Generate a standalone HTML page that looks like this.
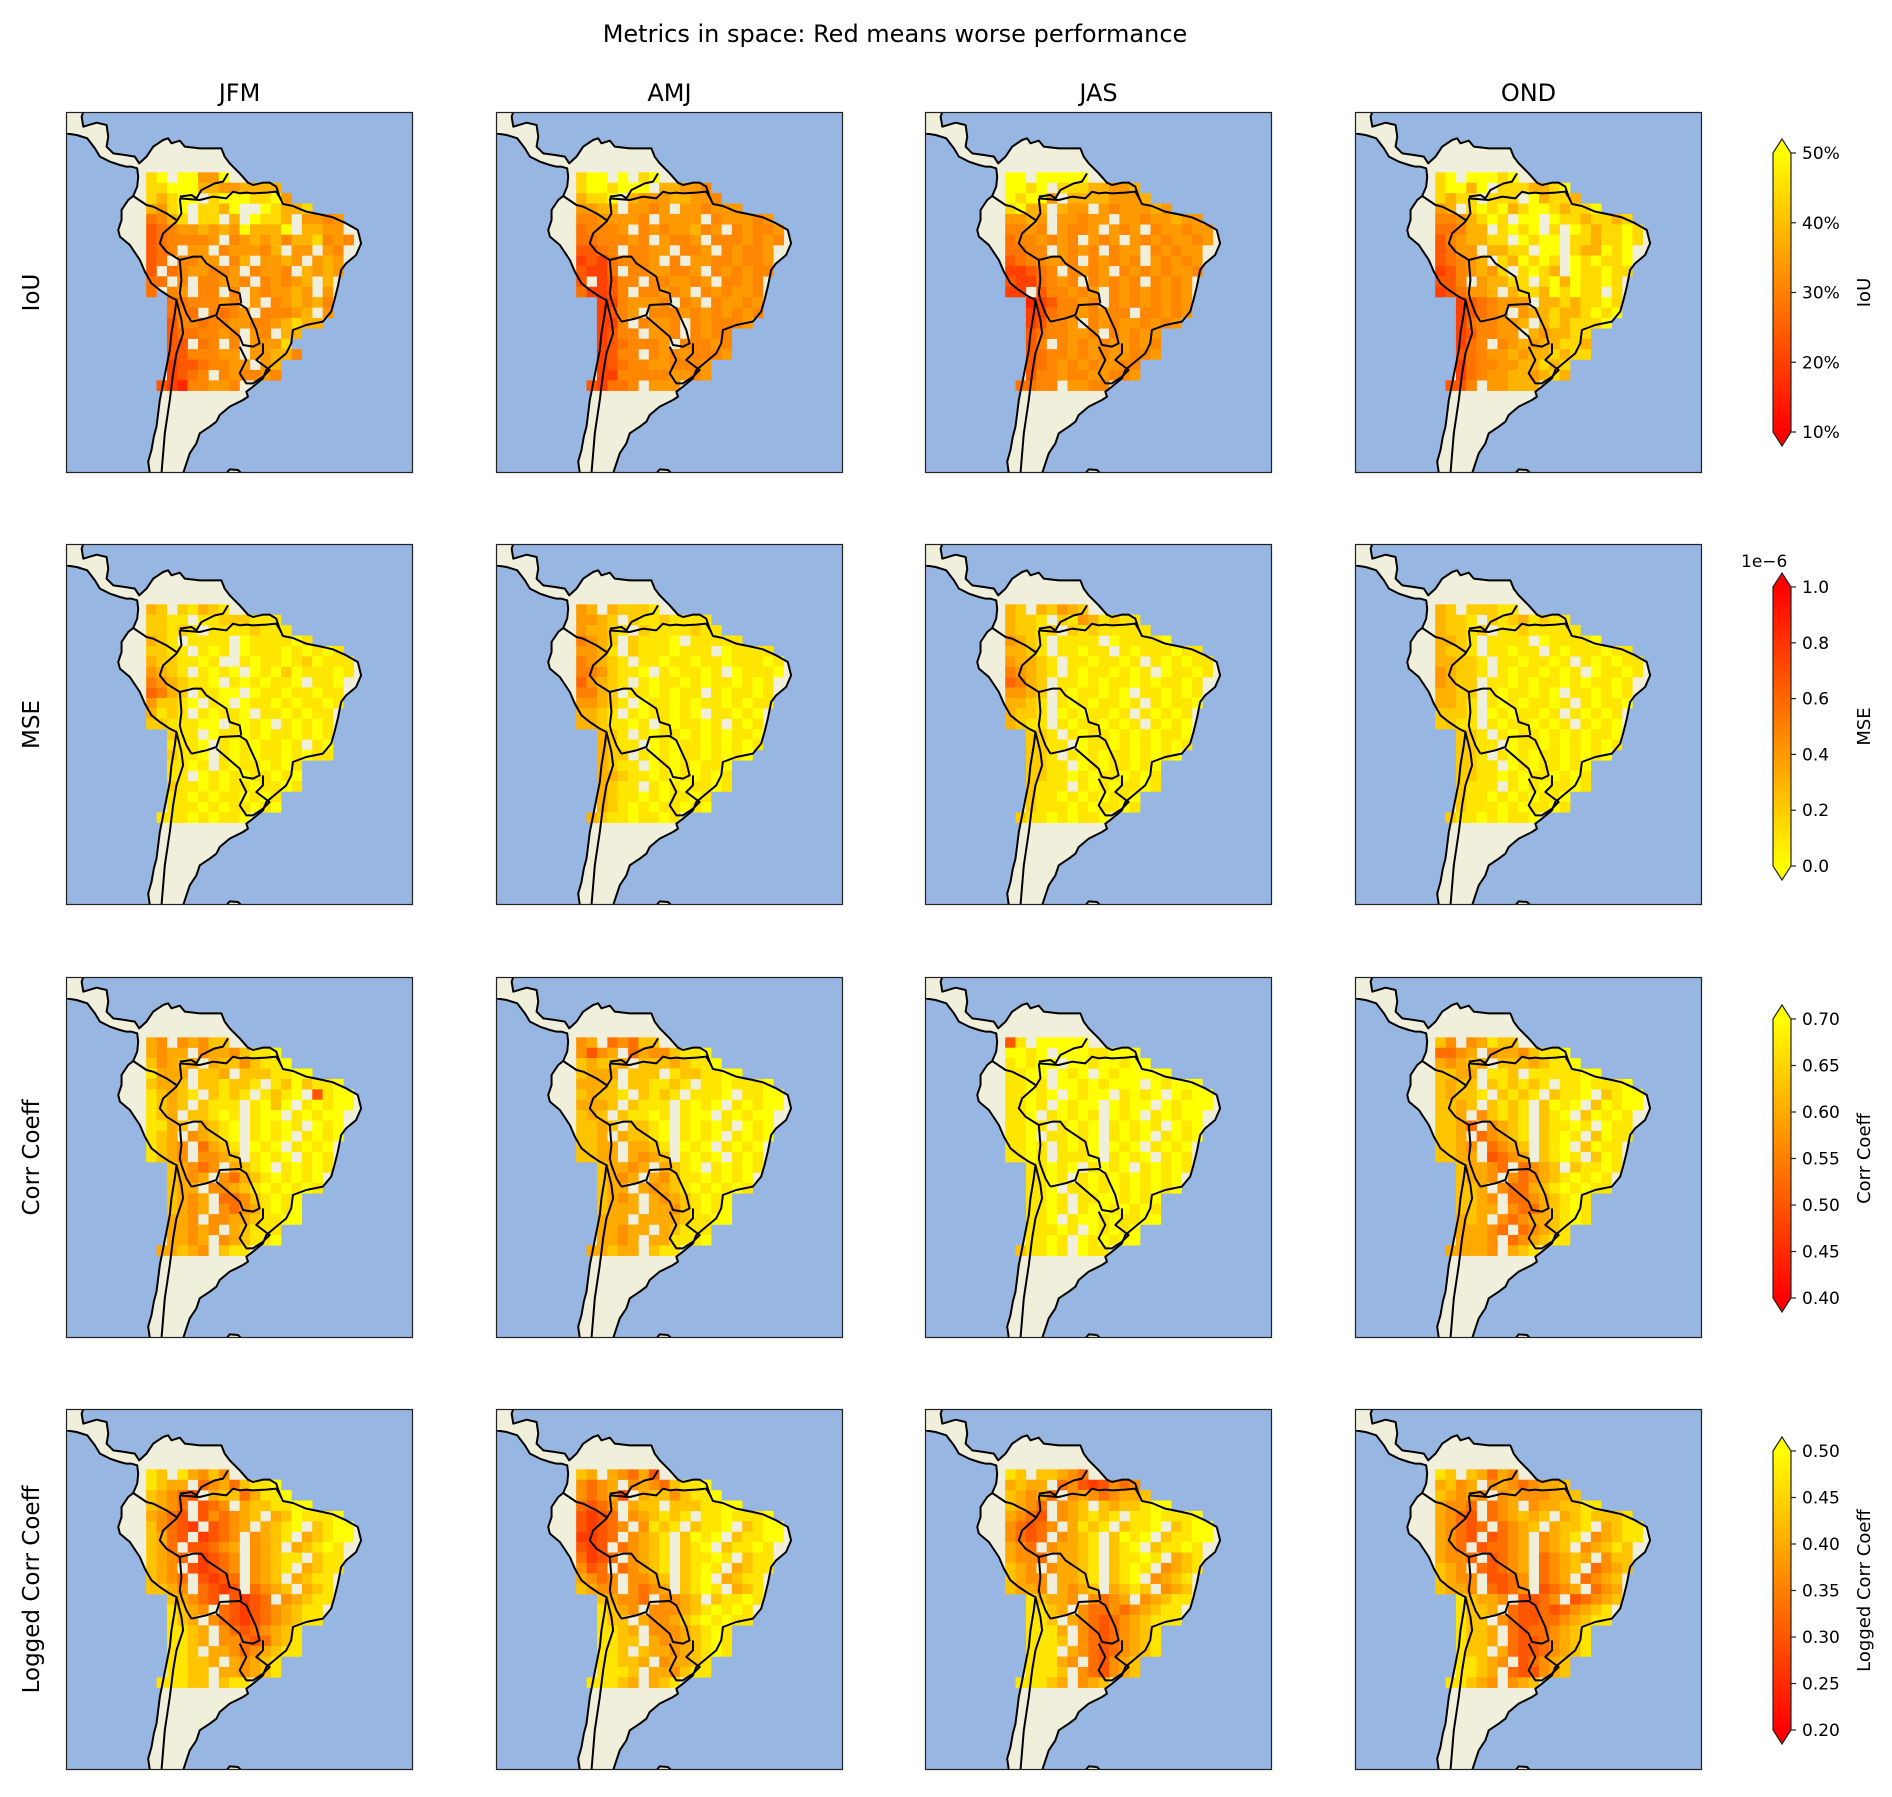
<!DOCTYPE html>
<html><head><meta charset="utf-8"><title>Metrics in space</title>
<style>
html,body{margin:0;padding:0;background:#fff;}
svg text{font-family:"DejaVu Sans","Liberation Sans",sans-serif;fill:#000;}
</style></head>
<body>
<svg id="fig" xmlns="http://www.w3.org/2000/svg" width="1892" height="1792" viewBox="0 0 1892 1792">
<rect x="0" y="0" width="1892" height="1792" fill="#fff"/>
<text x="895" y="42" font-size="24" text-anchor="middle">Metrics in space: Red means worse performance</text>
</svg>
<script>
// ---- data ----
const seasons = ["JFM","AMJ","JAS","OND"];
const metrics = ["IoU","MSE","Corr Coeff","Logged Corr Coeff"];
const rowStart = [0,0,0,0,0,0,0,0,0,0,0,0,2,2,2,2,2,2,2,2,1];
// value represented by each digit level, per metric
const iouLevels = [0.12,0.16,0.20,0.24,0.28,0.31,0.34,0.38,0.44,0.50];
const mseLevels = [0.00,0.10,0.20,0.30,0.40,0.50,0.60,0.70,0.85,1.00];
const corLevels = [0.40,0.43,0.47,0.50,0.53,0.57,0.60,0.63,0.67,0.70];
const logLevels = [0.20,0.23,0.27,0.30,0.33,0.37,0.40,0.43,0.47,0.50];
// digit level per grid cell ('.' = missing)
const iouJFM = ["89.99669","8899977667777","87899.89998896","7689.8879..98778","4578.88.7.9887.6656","34566767697779.7766.","3455556.567675778565","345.66.566657.66.65","34.5566.57.6676.676","3.4566556.5665.7676","44.5.55665.56567.7","4.56.55.5.656676.6","4455565.6.567675","454.5456.55567.6","355455665567877","3445565.65.77","33.45.5.6668.","3355566.66775","23345566.67","2345.565565","32155665."];
const iouAMJ = ["899.9.89","8998999.77665","7889.766677665","6677.6656.665666","5566665.6666.566656","45556.56566756.56556","4455565.6556.5556565","3345.5566.556.56556","23245556.5.66556556","3224.5566556.565655","3.2355.556656.5565","42235.55656.565665","2256665.56.56656","2356.55565656565","225.5665.565556","2355.665.5655","2345556.55565","2355.56565556","23455665556","22555556656","32445.666"];
const iouJAS = ["99.99999","9989.88877667","98996.77776667","8977.766.6566676","6676.66566.66566766","5565.6556.656.566566","4556565.656.65656656","4455.6565.566.56566","3455665.56565.65656","22345.5656.56565665","3224565.56565.5656","22.355656.56565656","1235565.56565656","2245565655.55656","23556.565665656","3455665.56566","35.5656566565","3455656566556","34565656655","35565566556","4455.6655"];
const iouOND = ["89.99989","89979.8887789","8788.888.97887","67.8989789987889","5567898.99.98878878","44577.8989.8.9878898","3567788.9899.8878898","3466.7788.99.877989","34567.879898.989889","2356768.8987.988988","335.67788.89798898","234667.788798988.8","2345666.77878898","23456.6778778989","2455667.7878889","235566.767788","245.567677887","3456676778788","24556677878","24566776787","335.66777"];
const mseJFM = ["32.21321","2211.11222111","22121.11112111","321.1111.0111101","2211.101.0111010101","3221101..10110120111","4321.1010.0102011101","5432110.1010110.110","6532.1100.011011011","42210.10.0110101101","3121.10110.1101011","2211100.1010.10101","211.011010110101","1110.10101101.10","2110.10101101011","1101.10110101","11.0101011010","2110101101101","11010110101","11101011010","111010110"];
const mseAMJ = ["43.32221","4432.21121111","43321.21111211","5432.21110.11111","4431.21110111.01111","54321.11011011011101","5542110.101101.01110","64321.1011010110101","5532.1101011.101101","44321.0110101101011","3321.1011010.11010","3321101.101101.101","321.101101010110","3211.01011010101","322.10101101010","3211.01010110","3321101010101","3211.10101101","32110101101","32101011010","321101101"];
const mseJAS = ["32.32432","3221.21431211","32212.21211111","4321.1111.011110","3321.11011.10111011","43321.1101101.101011","54321.10110101.01101","6532.11010110101101","4432.1011010.110101","3321.10101101.10110","3221.0101101.10101","3211.10110101.1010","221.101101010110","2211.01101010101","221.10101101010","2211.01011010","2211010110101","2111.10101101","21101010110","21110101101","211010110"];
const mseOND = ["32.22211","3221.21231211","32212.11211111","3321.1111.011110","3221.11011.10111011","33221.1101101.101011","43221.10110101.01101","4322.11010110101101","3322.1011010.110101","3321.10101101.10110","2221.0101101.10101","2211.10110101.1010","221.101101010110","2211.01101010101","221.10101101010","2211.01011010","2211010110101","2111.10101101","21101010110","21110101101","211010110"];
const corJFM = ["65.56577","6566.56657889","75676.67757889","8666.776.7778899","7667.778778.8797889","87678.7878.8789.3899","8767.7888.8979.89899","876.77898.899.89899","8867.6789.89898.989","876.56789.8989.8989","8765.4678.989.8989","8765.5567.8989.898","76545.6789.89898","7656.5467898989.","766.55678989898","7656.44578989","7656.54568989","665.556678899","66565.67888","6656.567889","66765.788"];
const corAMJ = ["56.45477","5356.46557889","76776.77767889","7666.777.8778899","6667.778878.8898889","76778.7878.8889.8899","6667.7888.8989.89899","767.78898.899.89899","7767.7789.89898.989","776.67789.8989.8989","7766.6678.989.8989","7766.6567.8989.898","76656.6789.89898","7656.6578898989.","766.65678989898","7656.65678989","7666.66578989","666.666678899","66566.67888","6656.668889","66766.788"];
const corJAS = ["38.99999","9989.99988999","89899.99899899","8899.989.9899999","8898.99898999.98999","88989.9899.8989.9899","8898.9899.9899.98999","889.89898.989.89899","8898.8989.89898.989","889.88989.8989.8989","8898.8989.989.8989","8898.8889.8989.898","88989.8989.89898","8898.8989898989.","889.88989898989","8898.88998989","8898.89989898","889.899898899","88898.98989","8898.989899","78898.988"];
const corOND = ["75.56877","4456.56657889","65676.77767889","7766.887.8888899","7677.787878.8898889","76778.7878.7889.7899","7767.7878.7989.79899","776.57878.789.79898","7764.5678.78898.988","776.45678.7898.7988","7765.4567.789.7988","7766.3456.7898.798","76654.4567.78898","7665.5456789898.","776.54467898988","7765.44567898","7766.54467898","676.545667898","66654.45678","6665.456788","66665.678"];
const logJFM = ["87.86575","8766.45647889","76543.67746889","7654.345.6778899","6543.354567.6798889","75432.3456.6789.7899","7643.2345.5678.67899","764.33456.567.67898","7654.2345.56788.788","765.32345.5678.6788","7654.3234.567.6788","7765.4323.4567.678","76543.3234.56788","8765.4323456788.","876.54323456788","8876.54345678","8876.55434678","887.665456788","88776.65678","8877.665678","88877.788"];
const logAMJ = ["76.65463","5456.56547889","54563.67757889","4345.677.7778899","3234.567878.8898889","32345.5878.7889.7899","2234.5678.7989.78899","323.45678.789.78898","4234.5678.78898.788","534.45678.7898.6788","6545.5567.789.6788","7655.5456.7898.678","76554.5567.78898","8765.5556789898.","877.65567898988","8876.55567898","8877.65567898","887.766567898","88776.56678","8887.665788","88876.678"];
const logJAS = ["87.77654","6766.45323545","76564.56545667","7654.567.7677899","6543.567878.8898889","54345.6878.7889.7899","5434.5678.7989.78899","654.56678.789.78898","6554.6678.78898.678","765.56678.7898.5678","7655.6678.789.5678","7665.6567.6787.567","87665.5456.56788","8876.5445456788.","887.65434567888","8886.54345678","8887.54345678","888.654345678","88865.43567","8887.543567","88876.567"];
const logOND = ["87.76465","6756.56545667","76565.56555667","6554.456.5667788","6543.456767.6787778","65434.4567.6778.6788","6543.3456.5678.56788","654.34456.567.56787","6554.3456.45676.577","765.43456.4567.4567","7655.3345.456.4567","7665.4345.3456.456","87665.3345.34567","8776.4334345678.","877.54334456788","8776.43445678","8776.43345678","877.643345678","88765.34567","8876.433567","88765.567"];
const panelData = [[iouJFM,iouAMJ,iouJAS,iouOND],[mseJFM,mseAMJ,mseJAS,mseOND],[corJFM,corAMJ,corJAS,corOND],[logJFM,logAMJ,logJAS,logOND]];
const levels = [iouLevels, mseLevels, corLevels, logLevels];
// colorbar domains and ticks
const vmins = [0.10, 0.0, 0.40, 0.20];
const vmaxs = [0.50, 1.0, 0.70, 0.50];
const reversedCmap = [false, true, false, false];
const iouTicks = ["10%","20%","30%","40%","50%"];
const iouTickVals = [0.10,0.20,0.30,0.40,0.50];
const mseTickVals = [0.0,0.2,0.4,0.6,0.8,1.0];
const corTickVals = [0.40,0.45,0.50,0.55,0.60,0.65,0.70];
const logTickVals = [0.20,0.25,0.30,0.35,0.40,0.45,0.50];

// ---- layout ----
const NS = "http://www.w3.org/2000/svg";
const svg = document.getElementById("fig");
const colX = [66, 496, 925, 1355];
const rowY = [112, 544, 977, 1409];
const PW = 347, PH = 361;
const CB = {x:1773, w:18, tops:[153,587,1019,1451], len:279, tip:14};

function el(tag, attrs, parent){const e=document.createElementNS(NS,tag);for(const k in attrs)e.setAttribute(k,attrs[k]);(parent||svg).appendChild(e);return e;}
function autumn(t){t=Math.max(0,Math.min(1,t));return "rgb(255,"+Math.round(255*t)+",0)";}
function digitToValue(m,d){return levels[m][d];}
function colorFor(m,v){let t=(v-vmins[m])/(vmaxs[m]-vmins[m]);if(reversedCmap[m])t=1-t;return autumn(t);}

const landD = "M198,336 L250,336 L245,350 L250,380 L290,368 L320,375 L325,410 L320,440 L340,460 L375,465 L405,470 L418,490 L440,470 L460,440 L490,420 L505,415 L515,430 L540,422 L555,440 L600,445 L640,445 L665,445 L675,470 L690,490 L720,520 L745,548 L760,555 L790,548 L810,548 L830,560 L840,590 L850,612 L880,618 L920,635 L970,645 L1000,652 L1040,670 L1075,690 L1085,730 L1070,765 L1040,790 L1025,810 L1015,860 L1005,900 L995,935 L970,965 L920,975 L880,990 L875,1030 L860,1060 L830,1085 L800,1110 L790,1135 L760,1160 L740,1175 L745,1190 L730,1200 L690,1220 L660,1245 L650,1265 L630,1280 L600,1300 L590,1330 L570,1360 L560,1390 L550,1420 L450,1420 L445,1385 L455,1350 L462,1310 L470,1280 L475,1240 L480,1200 L490,1150 L500,1100 L510,1050 L515,1000 L525,940 L530,900 L510,890 L480,870 L455,850 L435,815 L420,780 L390,735 L360,710 L355,690 L365,660 L365,630 L385,600 L400,588 L412,560 L415,530 L412,505 L395,500 L380,500 L360,495 L330,485 L300,470 L285,445 L262,415 L230,405 L198,400 Z M680,1420 L690,1408 L715,1410 L725,1420 Z";
const borders = [
 "M540,590 L575,585 L590,595 L605,570 L645,550 L670,545 L685,520",
 "M540,595 L600,600 L640,590 L680,595 L700,575 L720,580 L740,578 L760,580 L800,578 L830,575 L845,600",
 "M400,588 L440,615 L460,620 L500,640 L530,660",
 "M540,595 L545,640 L530,665 L490,700 L480,730 L500,755 L540,780 L580,770 L605,770 L620,790 L680,830 L690,870 L720,880 L725,910",
 "M540,780 L545,840 L540,880 L545,900 L560,940 L575,965",
 "M575,965 L620,955 L650,945 L660,915 L720,912 L740,925 L770,990 L780,1030 L760,1040 L730,1035 L720,1010 L650,950",
 "M530,900 L545,960 L550,1000 L530,1060 L520,1120 L510,1200 L495,1300 L485,1420",
 "M720,1040 L740,1080 L720,1120 L740,1150 L760,1150 L790,1130 L810,1110 L770,1080 L790,1060 L790,1030"
];
const CX0=439, CY0=517, CS=31.2;

seasons.forEach((s,j)=>{
  const t=el("text",{x:colX[j]+PW/2,y:101,"font-size":24,"text-anchor":"middle"});
  
  
  t.textContent=s;
});
const rowSlug=["iou","mse","corr-coeff","logged-corr-coeff"];
metrics.forEach((m,i)=>{
  const cy=rowY[i]+PH/2;
  const t=el("text",{x:0,y:0,"font-size":23,"text-anchor":"middle",transform:"translate(39,"+cy+") rotate(-90)"});
  
  
  t.textContent=m;
});

for(let i=0;i<4;i++){
  for(let j=0;j<4;j++){
    const g=el("g",{transform:"translate("+colX[j]+","+rowY[i]+")"});
    
    
    const inner=el("svg",{x:0,y:0,width:PW,height:PH,viewBox:"198 336 1043 1083",preserveAspectRatio:"none",overflow:"hidden"},g);
    const ocean=el("rect",{x:198,y:336,width:1043,height:1083,fill:"#97b6e1"},inner);
    
    
    const land=el("path",{d:landD,fill:"#efefdb",stroke:"none"},inner);
    
    
    const cells=el("g",{},inner);
    
    
    const rows=panelData[i][j];
    rows.forEach((str,r)=>{
      for(let k=0;k<str.length;k++){
        const ch=str[k];
        if(ch==='.'||ch===' ')continue;
        const v=digitToValue(i,+ch);
        const c=rowStart[r]+k;
        const rc=el("rect",{x:CX0+c*CS,y:CY0+r*CS,width:CS+0.6,height:CS+0.6,fill:colorFor(i,v)},cells);
        
        
      }
    });
    const coast=el("path",{d:landD,fill:"none",stroke:"#000","stroke-width":6,"stroke-linejoin":"round"},inner);
    
    
    borders.forEach(b=>{
      const bp=el("path",{d:b,fill:"none",stroke:"#000","stroke-width":6,"stroke-linejoin":"round"},inner);
      
      
    });
    const frame=el("rect",{x:0.5,y:0.5,width:PW-1,height:PH-1,fill:"none",stroke:"#222","stroke-width":1.2},g);
    
    
  }
}

const defs=el("defs",{});
const tickSets=[iouTickVals,mseTickVals,corTickVals,logTickVals];
const cbLabels=["IoU","MSE","Corr Coeff","Logged Corr Coeff"];
function fmtTick(i,v,k){
  if(i===0) return iouTicks[k];
  if(i===1) return v.toFixed(1);
  return v.toFixed(2);
}
for(let i=0;i<4;i++){
  const top=CB.tops[i], bot=top+CB.len, x=CB.x, w=CB.w;
  const gid="grad"+i;
  const lg=el("linearGradient",{id:gid,x1:0,y1:1,x2:0,y2:0},defs);
  const c0=colorFor(i,vmins[i]), c1=colorFor(i,vmaxs[i]);
  el("stop",{offset:"0",["stop-color"]:c0},lg);
  el("stop",{offset:"1",["stop-color"]:c1},lg);
  const g=el("g",{});
  
  
  el("rect",{x:x,y:top,width:w,height:CB.len,fill:"url(#"+gid+")"},g);
  const upT=el("path",{d:`M${x},${top} L${x+w/2},${top-CB.tip} L${x+w},${top} Z`,fill:c1},g);
  
  
  const dnT=el("path",{d:`M${x},${bot} L${x+w/2},${bot+CB.tip} L${x+w},${bot} Z`,fill:c0},g);
  
  
  el("path",{d:`M${x},${top} L${x+w/2},${top-CB.tip} L${x+w},${top} L${x+w},${bot} L${x+w/2},${bot+CB.tip} L${x},${bot} Z`,fill:"none",stroke:"#222","stroke-width":1.2},g);
  const ys=v=>bot-(v-vmins[i])/(vmaxs[i]-vmins[i])*CB.len;
  tickSets[i].forEach((v,k)=>{
    const y=ys(v);
    el("line",{x1:x+w,y1:y,x2:x+w+5,y2:y,stroke:"#222","stroke-width":1.2},g);
    const t=el("text",{x:x+w+11,y:y+6,"font-size":17},g);
    
    
    t.textContent=fmtTick(i,v,k);
  });
  const cy=top+CB.len/2;
  const lab=el("text",{x:0,y:0,"font-size":18,"text-anchor":"middle",transform:`translate(1870,${cy}) rotate(-90)`},g);
  
  
  lab.textContent=cbLabels[i];
  if(i===1){
    const off=el("text",{x:1741,y:567,"font-size":17},g);
    
    
    off.textContent="1e\u22126";
  }
}
</script>
</body></html>
